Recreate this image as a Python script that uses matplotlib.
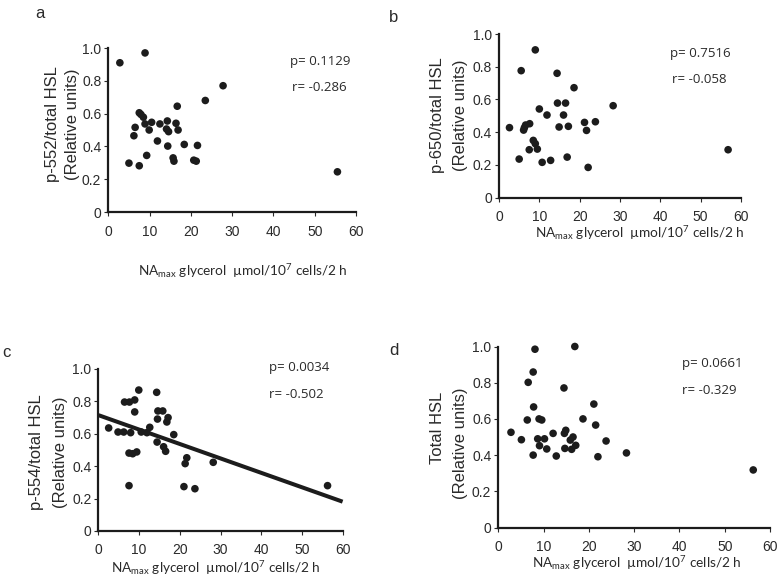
import matplotlib
matplotlib.use("Agg")
import matplotlib.pyplot as plt
import numpy as np

W, H = 779, 577

# panel a : p-552
a_x = [2.8, 8.9, 27.8, 23.5, 16.7, 7.5, 7.9, 8.5, 8.9, 6.5, 10.5, 9.9, 6.2, 12.5, 14.3, 16.4,
       14.1, 14.6, 16.9, 11.9, 14.4, 18.4, 21.6, 9.3, 15.7, 15.9, 20.7, 21.3, 5.0, 7.5, 55.5]
a_y = [0.91, 0.97, 0.77, 0.68, 0.645, 0.605, 0.595, 0.578, 0.537, 0.516, 0.547, 0.50, 0.465,
       0.537, 0.555, 0.541, 0.506, 0.49, 0.50, 0.433, 0.402, 0.412, 0.406, 0.345, 0.33, 0.31,
       0.316, 0.31, 0.298, 0.282, 0.245]

# panel b : p-650
b_x = [9.0, 5.5, 14.4, 18.6, 28.3, 14.5, 16.5, 10.0, 11.9, 16.0, 2.6, 6.3, 6.6, 7.6, 6.1, 14.9,
       17.2, 21.2, 23.9, 21.7, 8.5, 9.0, 7.5, 9.5, 5.0, 10.7, 12.8, 16.9, 22.1, 56.8]
b_y = [0.903, 0.776, 0.76, 0.672, 0.562, 0.578, 0.578, 0.542, 0.505, 0.505, 0.428, 0.428, 0.444,
       0.452, 0.413, 0.432, 0.436, 0.46, 0.464, 0.411, 0.35, 0.33, 0.293, 0.297, 0.236, 0.216,
       0.228, 0.248, 0.185, 0.293]

# panel c : p-554
c_x = [9.9, 14.3, 6.4, 7.6, 8.9, 8.9, 14.6, 15.8, 14.5, 17.1, 16.8, 2.5, 4.8, 6.2, 7.9, 10.5,
       11.9, 12.6, 18.5, 14.4, 16.0, 16.5, 7.5, 8.4, 9.4, 21.7, 21.3, 28.2, 7.5, 21.0, 23.7, 56.3]
c_y = [0.87, 0.856, 0.796, 0.796, 0.809, 0.735, 0.741, 0.741, 0.691, 0.70, 0.673, 0.636, 0.611,
       0.611, 0.607, 0.611, 0.607, 0.64, 0.595, 0.549, 0.52, 0.492, 0.481, 0.477, 0.488, 0.452,
       0.416, 0.424, 0.28, 0.274, 0.261, 0.28]
c_fit = (0.715, -0.0089)  # intercept, slope

# panel d : total HSL
d_x = [8.1, 16.9, 7.7, 6.6, 14.5, 21.1, 7.8, 6.4, 9.0, 9.6, 18.7, 21.5, 2.8, 5.1, 12.1, 14.9,
       14.6, 8.7, 10.2, 9.1, 10.7, 16.5, 15.9, 17.1, 14.7, 16.2, 7.7, 12.8, 22.0, 23.8, 28.3, 56.3]
d_y = [0.985, 1.0, 0.859, 0.802, 0.771, 0.682, 0.666, 0.594, 0.60, 0.594, 0.60, 0.566, 0.526,
       0.485, 0.52, 0.537, 0.52, 0.49, 0.49, 0.452, 0.434, 0.50, 0.483, 0.454, 0.437, 0.432,
       0.40, 0.395, 0.391, 0.478, 0.412, 0.318]

letters = ["a", "b", "c", "d"]
ylabels = ["p-552/total HSL", "p-650/total HSL", "p-554/total HSL", "Total HSL"]
pvals = ["p= 0.1129", "p= 0.7516", "p= 0.0034", "p= 0.0661"]
rvals = ["r= -0.286", "r= -0.058", "r= -0.502", "r= -0.329"]
xticks = [0, 10, 20, 30, 40, 50, 60]
yticks = [0, 0.2, 0.4, 0.6, 0.8, 1.0]
ytick_labels = ["0", "0.2", "0.4", "0.6", "0.8", "1.0"]
xlabel = "NA$_{\\mathregular{max}}$ glycerol  \u00b5mol/10$^{\\mathregular{7}}$ cells/2 h"

plt.rcParams["font.family"] = ["Liberation Sans", "DejaVu Sans"]
plt.rcParams["mathtext.default"] = "regular"

ink = "#1c1c1c"
txt = "#2a2a2a"


def px(x, y):
    return x / W, 1 - y / H


fig = plt.figure(figsize=(W / 100, H / 100), dpi=100)

# pixel boxes: left, right (x=60), bottom (y=0), top (y=1)
boxes = [(108.3, 356, 212, 48), (499, 741, 197.7, 34),
         (98.5, 342.6, 531, 369), (498.3, 770, 527.5, 346.5)]
letter_pos = [(40, 6), (394, 10), (6, 345), (394, 343)]
ylab_pos = [((53, 124), (72, 124)), ((437, 115), (460, 115)),
            ((37, 452), (60, 452)), ((437, 428), (460, 443))]
xlab_pos = [(243, 271), (640, 233), (216, 568), (637, 563)]
stat_pos = [((290, 62), (292, 87)), ((670, 53), (672, 80)),
            ((269, 368), (269, 395)), ((682, 363), (682, 391))]

data = [(a_x, a_y), (b_x, b_y), (c_x, c_y), (d_x, d_y)]

for i in range(4):
    l, r, b, t = boxes[i]
    ax = fig.add_axes([l / W, 1 - b / H, (r - l) / W, (b - t) / H])
    ax.scatter(data[i][0], data[i][1], s=30, color=ink, edgecolors="none", zorder=3,
               clip_on=False)
    if i == 2:
        xs = np.array([0, 60])
        ax.plot(xs, c_fit[0] + c_fit[1] * xs, color=ink, lw=2.9, solid_capstyle="butt",
                clip_on=False)
    ax.set_xlim(0, 60)
    ax.set_ylim(0, 1)
    ax.set_xticks(xticks)
    ax.set_yticks(yticks)
    ax.set_yticklabels(ytick_labels)
    for s in ["top", "right"]:
        ax.spines[s].set_visible(False)
    for s in ["left", "bottom"]:
        ax.spines[s].set_linewidth(1.6)
        ax.spines[s].set_color(ink)
    ax.tick_params(axis="x", length=3, width=0.8, pad=6, labelsize=10, colors=txt)
    ax.tick_params(axis="y", length=3, width=0.8, pad=2, labelsize=10, colors=txt)
    ax.set_facecolor("none")

    fig.text(*px(*letter_pos[i]), letters[i], fontsize=12, color=txt, ha="center", va="top")
    (x1, y1), (x2, y2) = ylab_pos[i]
    fig.text(*px(x1, y1), ylabels[i], fontsize=12, rotation=90, ha="center", va="center",
             color=txt)
    fig.text(*px(x2, y2), "(Relative units)", fontsize=12, rotation=90, ha="center",
             va="center", color=txt)
    fig.text(*px(*xlab_pos[i]), xlabel, fontsize=9.8, ha="center", va="center", color=txt,
             family=["Lato", "DejaVu Sans"])
    (p1, q1), (p2, q2) = stat_pos[i]
    fig.text(*px(p1, q1), pvals[i], fontsize=9.5, ha="left", va="center", color=txt,
             family=["Open Sans", "DejaVu Sans"])
    fig.text(*px(p2, q2), rvals[i], fontsize=9.5, ha="left", va="center", color=txt,
             family=["Open Sans", "DejaVu Sans"])

fig.savefig("out.png", dpi=100)
